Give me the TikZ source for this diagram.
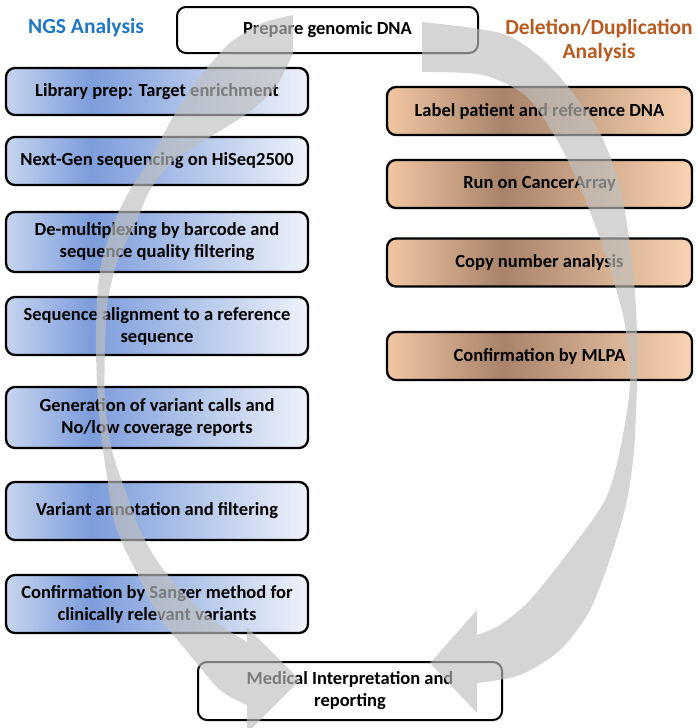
\documentclass[tikz,border=0pt]{standalone}
\usepackage{fontspec}
\setmainfont{Carlito}
\definecolor{ngsblue}{HTML}{1F77C4}
\definecolor{delbrown}{HTML}{B8591E}
\definecolor{blueA}{HTML}{C6D4EF}
\definecolor{blueB}{HTML}{7C9CDB}
\definecolor{blueC}{HTML}{EEF2FA}
\definecolor{tanA}{HTML}{F2C6A2}
\definecolor{tanB}{HTML}{A8836A}
\definecolor{tanC}{HTML}{F9D3B0}
\pgfdeclarehorizontalshading{ngsfill}{100bp}{color(0bp)=(blueA); color(25bp)=(blueA); color(39bp)=(blueB); color(75bp)=(blueC); color(100bp)=(blueC)}
\pgfdeclarehorizontalshading{delfill}{100bp}{color(0bp)=(tanA); color(25bp)=(tanA); color(44bp)=(tanB); color(75bp)=(tanC); color(100bp)=(tanC)}
\newcommand\boxfont{\fontsize{18.5}{22}\selectfont\bfseries}
\tikzset{
  stepbox/.style={draw, line width=2.3pt, rounded corners=9pt, align=center, font=\boxfont, inner sep=0pt},
  ngsbox/.style={stepbox, shade, shading=ngsfill, minimum width=302pt},
  delbox/.style={stepbox, shade, shading=delfill, minimum width=305pt, minimum height=48pt},
  endbox/.style={stepbox, fill=white, line width=2pt},
  title/.style={font=\fontsize{21.5}{24}\selectfont\bfseries, align=center},
  bigarrow/.style={fill=gray!50, fill opacity=0.65}
}
\begin{document}
\begin{tikzpicture}[x=1pt,y=-1pt]
\useasboundingbox (0,0) rectangle (698,728);
\node[title, text=ngsblue] (ngs) at (86,28) {NGS Analysis};
\node[title, text=delbrown] (del) at (599,41) {Deletion/Duplication\\Analysis};
\node[endbox, minimum width=301pt, minimum height=46pt] (prep) at (327.5,30) {Prepare genomic DNA};
% NGS branch
\node[ngsbox, minimum height=47pt] (lib) at (157,91.5) {Library prep: Target enrichment};
\node[ngsbox, minimum height=48pt] (hiseq) at (157,161) {Next-Gen sequencing on HiSeq2500};
\node[ngsbox, minimum height=60pt] (demux) at (157,242) {De-multiplexing by barcode and\\sequence quality filtering};
\node[ngsbox, minimum height=58pt] (align) at (157,326) {Sequence alignment to a reference\\sequence};
\node[ngsbox, minimum height=61pt] (calls) at (157,417.5) {Generation of variant calls and\\No/low coverage reports};
\node[ngsbox, minimum height=58pt] (annot) at (157,511) {Variant annotation and filtering};
\node[ngsbox, minimum height=58pt] (sanger) at (157,604) {Confirmation by Sanger method for\\clinically relevant variants};
% deletion/duplication branch
\foreach \n/\y/\t in {label/111/Label patient and reference DNA, run/184/Run on CancerArray,
  cnv/262.5/Copy number analysis, mlpa/356/Confirmation by MLPA}
  \node[delbox] (\n) at (539.5,\y) {\t};
\node[endbox, minimum width=304pt, minimum height=58pt] (medical) at (350,691) {Medical Interpretation and\\reporting};
% the two curved arrows
\begin{scope}
\clip (0,0) rectangle (698,728);
\fill[bigarrow] plot[smooth] coordinates {(293,15) (263,23) (230,43) (200,77) (173,117) (150,160) (130,190) (115,220) (102,260) (97,300) (96,350) (98,400) (103,450) (108,483) (113,517) (123,545) (137,573) (158,615) (190,655) (220,690) (247,705)}
  -- (247,733) -- (300,680) -- (247,627)
  -- plot[smooth] coordinates {(247,642) (220,625) (190,600) (160,565) (140,530) (125,490) (112,450) (105,400) (105,350) (108,300) (118,260) (137,220) (150,190) (172,162) (205,140) (245,115) (275,88) (293,53)} -- cycle;
\fill[bigarrow] plot[smooth] coordinates {(422,22) (500,33) (540,57) (573,93) (600,133) (620,187) (632,260) (637,330) (637,383) (634,450) (627,500) (613,550) (590,610) (560,650) (520,675) (477,683)}
  -- (477,713) -- (430,663) -- (477,610)
  -- plot[smooth] coordinates {(477,635) (500,625) (530,600) (570,550) (605,500) (620,450) (630,383) (624,320) (604,250) (580,187) (557,140) (527,97) (483,75) (422,72)} -- cycle;
\end{scope}
\end{tikzpicture}
\end{document}
